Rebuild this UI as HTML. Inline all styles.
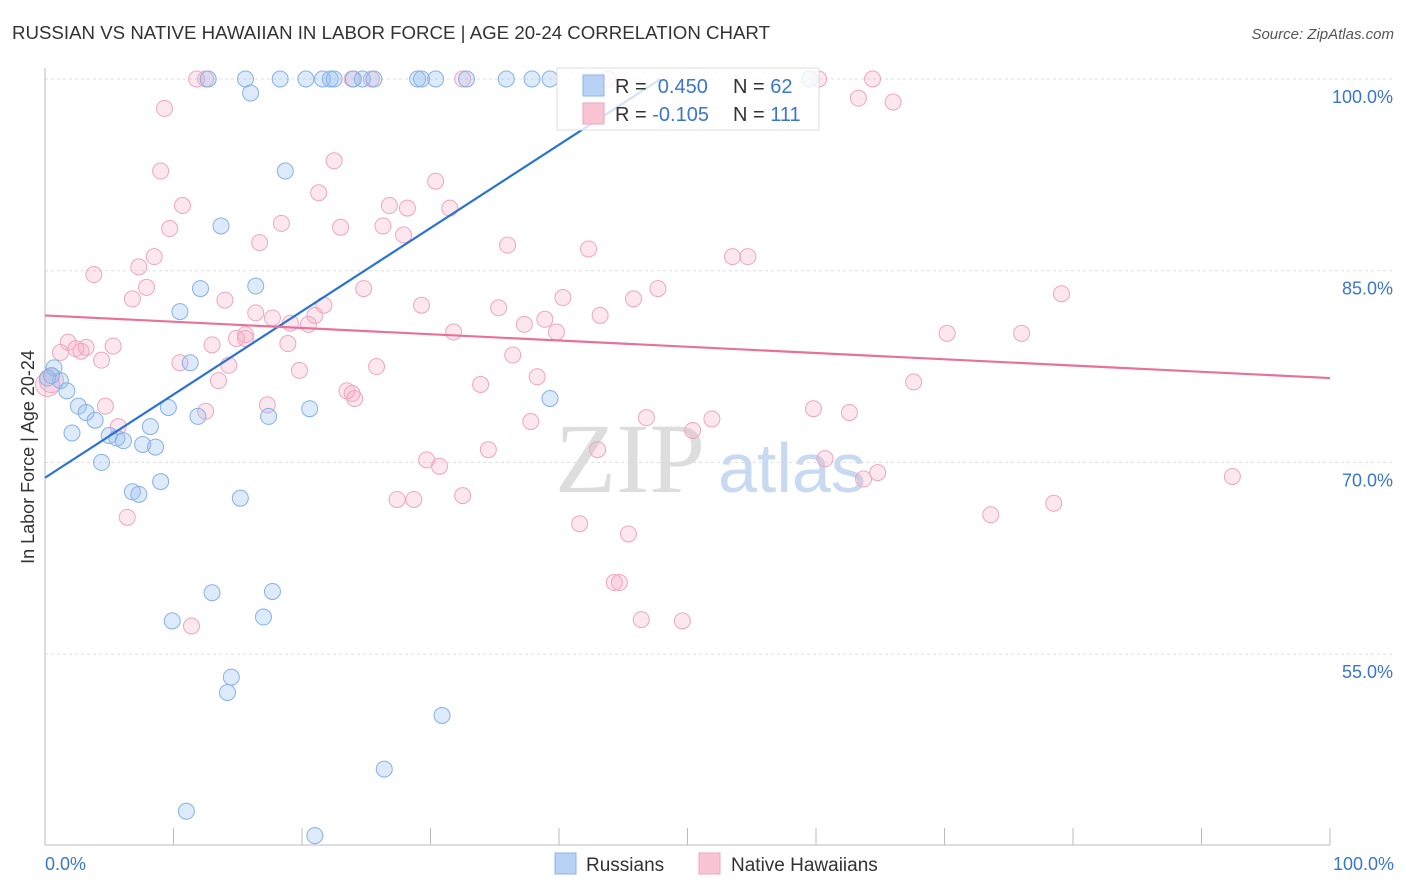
<!DOCTYPE html>
<html><head><meta charset="utf-8"><style>
body{margin:0;background:#fff;font-family:"Liberation Sans",sans-serif;}
svg{display:block}
</style></head><body>
<svg id="chart" width="1406" height="892" xmlns="http://www.w3.org/2000/svg">
<text x="12" y="39" font-size="18" fill="#333" textLength="758" lengthAdjust="spacingAndGlyphs">RUSSIAN VS NATIVE HAWAIIAN IN LABOR FORCE | AGE 20-24 CORRELATION CHART</text>
<text x="1394" y="39" font-size="15" fill="#555" font-style="italic" text-anchor="end">Source: ZipAtlas.com</text>
<text transform="translate(34,457) rotate(-90)" font-size="18" fill="#333" text-anchor="middle">In Labor Force | Age 20-24</text>
<g id="grid"></g>
<g id="axes"></g>
<text x="555" y="492" font-size="100" fill="#ddd" font-family="Liberation Serif,serif">ZIP</text>
<text x="718" y="492" font-size="70" fill="#c8daf2">atlas</text>
<g id="pts"></g>
<g id="lines"></g>
<g>
<rect x="557" y="68" width="262" height="62" fill="#fff" fill-opacity="0.8" stroke="#ddd"/>
<rect x="583" y="75" width="21" height="21" fill="#b8d2f5" stroke="#8ab4ea"/>
<rect x="583" y="103" width="21" height="21" fill="#f9c5d5" stroke="#eea3bd"/>
<text x="615" y="93" font-size="20" fill="#333">R = <tspan fill="#3a76d0">&#160;0.450</tspan></text>
<text x="733" y="93" font-size="20" fill="#333">N = <tspan fill="#3a76d0">62</tspan></text>
<text x="615" y="121" font-size="20" fill="#333">R = <tspan fill="#3a76d0">-0.105</tspan></text>
<text x="733" y="121" font-size="20" fill="#333">N = <tspan fill="#3a76d0">111</tspan></text>
</g>
<g>
<rect x="555" y="853" width="21" height="21" fill="#b8d2f5" stroke="#8ab4ea"/>
<text x="586" y="871" font-size="19" fill="#333">Russians</text>
<rect x="699" y="853" width="21" height="21" fill="#f9c5d5" stroke="#eea3bd"/>
<text x="731" y="871" font-size="19" fill="#333">Native Hawaiians</text>
</g>
</svg>
<script>
const blueX=[12.7,15.6,18.3,20.3,21.6,22.2,22.5,24.0,24.7,25.6,29.0,29.3,30.4,32.8,35.9,37.9,39.3,59.5,16.0,18.7,13.7,12.1,16.4,10.5,11.3,0.7,1.2,0.5,1.7,2.6,3.2,3.9,2.1,5.0,5.6,6.1,7.6,8.6,8.2,9.6,11.9,17.4,20.6,4.4,9.0,6.8,7.3,15.2,39.3,13.0,17.7,9.9,17.0,14.5,14.2,30.9,26.4,11.0,21.0,0.2];
const blueY=[100,100,100,100,100,100,100,100,100,100,100,100,100,100,100,100,100,100,98.9,92.8,88.5,83.6,83.8,81.8,77.8,77.4,76.4,76.8,75.6,74.4,73.9,73.3,72.3,72.1,71.9,71.7,71.4,71.2,72.8,74.3,73.6,73.6,74.2,70.0,68.5,67.7,67.5,67.2,75.0,59.8,59.9,57.6,57.9,53.2,52.0,50.2,46.0,42.7,40.8,76.6];
const pinkX=[11.8,12.5,23.9,25.4,32.5,43.8,60.2,64.4,63.3,66.0,9.3,9.0,22.5,21.3,30.4,26.8,28.2,31.5,10.7,9.7,18.4,23.0,26.3,27.9,16.7,36.0,42.3,53.5,54.7,8.5,7.3,3.8,7.9,6.8,14.0,24.8,40.3,47.7,45.8,79.1,16.4,17.7,19.1,20.5,21.0,21.7,29.3,35.3,38.9,37.3,39.8,43.2,31.8,70.2,76.0,1.8,1.2,2.4,2.8,5.3,3.2,13.0,14.9,15.6,15.6,18.9,4.4,10.5,14.3,19.8,25.8,36.4,13.5,33.9,38.3,67.6,23.5,24.1,23.9,4.7,12.5,17.3,59.8,62.6,37.8,46.8,51.9,50.4,5.7,43.0,34.5,29.7,30.7,60.7,64.8,63.7,92.4,32.5,27.4,28.7,78.5,6.4,41.6,73.6,45.4,44.3,44.7,46.4,49.6,11.4,0.5,0.2];
const pinkY=[100,100,100,100,100,100,100,100,98.5,98.2,97.7,92.8,93.6,91.1,92.0,90.1,89.9,89.9,90.1,88.3,88.7,88.4,88.5,87.8,87.2,87.0,86.7,86.1,86.1,86.1,85.3,84.7,83.7,82.8,82.7,83.6,82.9,83.6,82.8,83.2,81.7,81.3,80.9,80.8,81.5,82.3,82.3,82.1,81.2,80.8,80.2,81.5,80.2,80.1,80.1,79.4,78.6,78.9,78.7,79.1,79.0,79.2,79.7,79.7,80.0,79.3,78.0,77.8,77.6,77.2,77.5,78.4,76.4,76.1,76.7,76.3,75.6,75.0,75.4,74.4,74.0,74.5,74.2,73.9,73.2,73.5,73.4,72.5,72.8,71.0,71.0,70.2,69.7,70.3,69.2,68.7,68.9,67.4,67.1,67.1,66.8,65.7,65.2,65.9,64.4,60.6,60.6,57.7,57.6,57.2,76.4,76.1];
const blueTrend=[68.8,100.0];
const blueTrendEndX=[47.9];
const pinkTrend=[81.5,76.6];
const yTicks=[55,70,85,100];
const xTickLabels=["0.0%","100.0%"];

const X=v=>45+v*12.85, Y=v=>79+(100-v)*12.78;
const NS="http://www.w3.org/2000/svg";
function mk(tag,attrs,parent){const e=document.createElementNS(NS,tag);for(const k in attrs)e.setAttribute(k,attrs[k]);parent.appendChild(e);return e;}
const grid=document.getElementById('grid'),axes=document.getElementById('axes'),pts=document.getElementById('pts'),lines=document.getElementById('lines');
yTicks.forEach(t=>{
  const l=mk('line',{x1:45,x2:1394,y1:Y(t),y2:Y(t),stroke:'#ddd','stroke-dasharray':'3,3'},grid);
  
  
  const tx=mk('text',{x:1393,y:Y(t)+24,'font-size':18,fill:'#3a76d0','text-anchor':'end'},axes);
  tx.textContent=t.toFixed(1)+'%';
  
  
});
mk('line',{x1:45,x2:45,y1:68,y2:845,stroke:'#bbb'},axes);
mk('line',{x1:45,x2:1330,y1:845,y2:845,stroke:'#bbb'},axes);
for(let i=0;i<=10;i++){const tk=mk('line',{x1:X(i*10),x2:X(i*10),y1:828,y2:845,stroke:'#bbb'},axes);
  
  }
const xl0=mk('text',{x:45,y:870,'font-size':18,fill:'#3a76d0'},axes);xl0.textContent=xTickLabels[0];


const xl1=mk('text',{x:1394,y:870,'font-size':18,fill:'#3a76d0','text-anchor':'end'},axes);xl1.textContent=xTickLabels[1];


pinkX.forEach((x,i)=>{const c=mk('circle',{cx:X(x),cy:Y(pinkY[i]),r:(i>=pinkX.length-2)?12:8,fill:'rgba(245,170,195,0.28)',stroke:'#efa6bf','stroke-width':1},pts);
  
  });
blueX.forEach((x,i)=>{const c=mk('circle',{cx:X(x),cy:Y(blueY[i]),r:8,fill:'rgba(150,190,240,0.32)',stroke:'#86b1e8','stroke-width':1},pts);
  
  });
const bl=mk('line',{x1:X(0),y1:Y(blueTrend[0]),x2:X(blueTrendEndX[0]),y2:Y(blueTrend[1]),stroke:'#2a72d6','stroke-width':2.2},lines);


const pl=mk('line',{x1:X(0),y1:Y(pinkTrend[0]),x2:X(100),y2:Y(pinkTrend[1]),stroke:'#e8719b','stroke-width':2.2},lines);


</script>
</body></html>
